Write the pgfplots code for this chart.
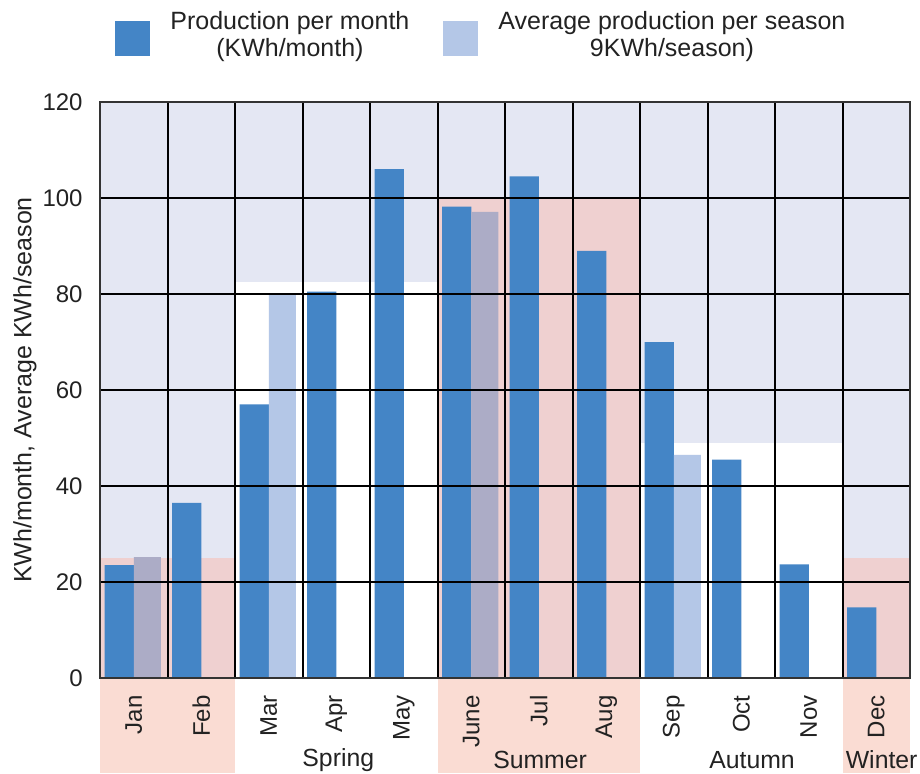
\documentclass[border=0pt]{standalone}
\usepackage{fontspec}
\setmainfont{Liberation Sans}
\usepackage{pgfplots}
\pgfplotsset{compat=1.18}
\definecolor{lav}{HTML}{E4E7F3}
\definecolor{pinkin}{HTML}{EFD0D0}
\definecolor{peach}{HTML}{FADCD3}
\definecolor{barblue}{HTML}{4485C6}
\definecolor{avgblue}{HTML}{B4C7E7}
\definecolor{avggray}{HTML}{ACACC6}
\definecolor{txt}{HTML}{222222}
\pgfplotsset{sqleg/.style={legend image code/.code={\fill[##1] (0pt,-10.25pt) rectangle (17.5pt,7.25pt);}}}
\begin{document}
\begin{tikzpicture}[font=\fontsize{12}{13.5}\selectfont]
\useasboundingbox (-50pt,-47.5pt) rectangle (410pt,339pt);
\begin{axis}[
 scale only axis, width=405pt, height=288pt,
 xmin=-0.5, xmax=11.5, ymin=0, ymax=120,
 axis on top, clip=false,
 xtick={0,...,11},
 xticklabels={Jan,Feb,Mar,Apr,May,June,Jul,Aug,Sep,Oct,Nov,Dec},
 minor xtick={0.5,1.5,...,10.5},
 ytick={0,20,...,120},
 xminorgrids, ymajorgrids,
 major tick length=0pt, minor tick length=0pt,
 grid style={black, line width=0.9pt},
 minor grid style={black, line width=1pt},
 axis line style={line width=0.8pt, draw=black!80},
 xticklabel style={rotate=90, anchor=east, inner sep=0pt},
 xticklabel shift=8.5pt,
 yticklabel style={inner sep=0pt},
 yticklabel shift=8.5pt,
 tick label style={text=txt},
 /pgf/number format/assume math mode=true,
 ylabel={KWh/month, Average KWh/season},
 ylabel style={at={(axis description cs:-0.0926,0.5)}, anchor=center, text=txt,
   font=\fontsize{12.5}{14}\selectfont},
 legend columns=2,
 legend style={at={(axis description cs:0,1)}, anchor=south west, xshift=7.5pt, yshift=19pt,
   draw=none, fill=none, inner sep=0pt, font=\fontsize{12.5}{13.7}\selectfont,
   cells={align=center, text=txt, inner sep=0pt}, column sep=8pt,
   /tikz/every even column/.append style={column sep=15pt}},
]
% background regions
\addplot[fill=lav, draw=none, forget plot] coordinates {(-0.5,0) (11.5,0) (11.5,120) (-0.5,120)} -- cycle;
\addplot[fill=pinkin, draw=none, forget plot] coordinates {(-0.5,0) (1.5,0) (1.5,25) (-0.5,25)} -- cycle;
\addplot[fill=white, draw=none, forget plot] coordinates {(1.5,0) (4.5,0) (4.5,82.5) (1.5,82.5)} -- cycle;
\addplot[fill=pinkin, draw=none, forget plot] coordinates {(4.5,0) (7.5,0) (7.5,100) (4.5,100)} -- cycle;
\addplot[fill=white, draw=none, forget plot] coordinates {(7.5,0) (10.5,0) (10.5,49) (7.5,49)} -- cycle;
\addplot[fill=pinkin, draw=none, forget plot] coordinates {(10.5,0) (11.5,0) (11.5,25) (10.5,25)} -- cycle;
% monthly production
\addplot[ybar, bar width=0.43, bar shift=-0.215, fill=barblue, draw=none, sqleg]
  coordinates {(0,23.5) (1,36.5) (2,57) (3,80.5) (4,106) (5,98.2) (6,104.5) (7,89) (8,70) (9,45.5) (10,23.7) (11,14.7)};
\addlegendentry{Production per month\\(KWh/month)}
% seasonal averages
\addplot[ybar, bar width=0.40, bar shift=0.20, fill=avgblue, draw=none, sqleg]
  coordinates {(2,80) (8,46.5)};
\addlegendentry{Average production per season\\9KWh/season)}
\addplot[ybar, bar width=0.40, bar shift=0.20, fill=avggray, draw=none, forget plot]
  coordinates {(0,25.2) (5,97.1)};
% bands below axis
\fill[peach] (axis cs:-0.5,0) rectangle ([yshift=-47.5pt]axis cs:1.5,0);
\fill[peach] (axis cs:4.5,0) rectangle ([yshift=-47.5pt]axis cs:7.5,0);
\fill[peach] (axis cs:10.5,0) rectangle ([yshift=-47.5pt]axis cs:11.5,0);
\node[text=txt, yshift=-41pt, font=\fontsize{12.4}{14}\selectfont] at (axis cs:3.03,0) {Spring};
\node[text=txt, yshift=-41pt, font=\fontsize{12.4}{14}\selectfont] at (axis cs:6.02,0) {Summer};
\node[text=txt, yshift=-41pt, font=\fontsize{12.4}{14}\selectfont] at (axis cs:9.16,0) {Autumn};
\node[text=txt, yshift=-41pt, font=\fontsize{12.4}{14}\selectfont] at (axis cs:11.08,0) {Winter};
\end{axis}
\end{tikzpicture}
\end{document}
